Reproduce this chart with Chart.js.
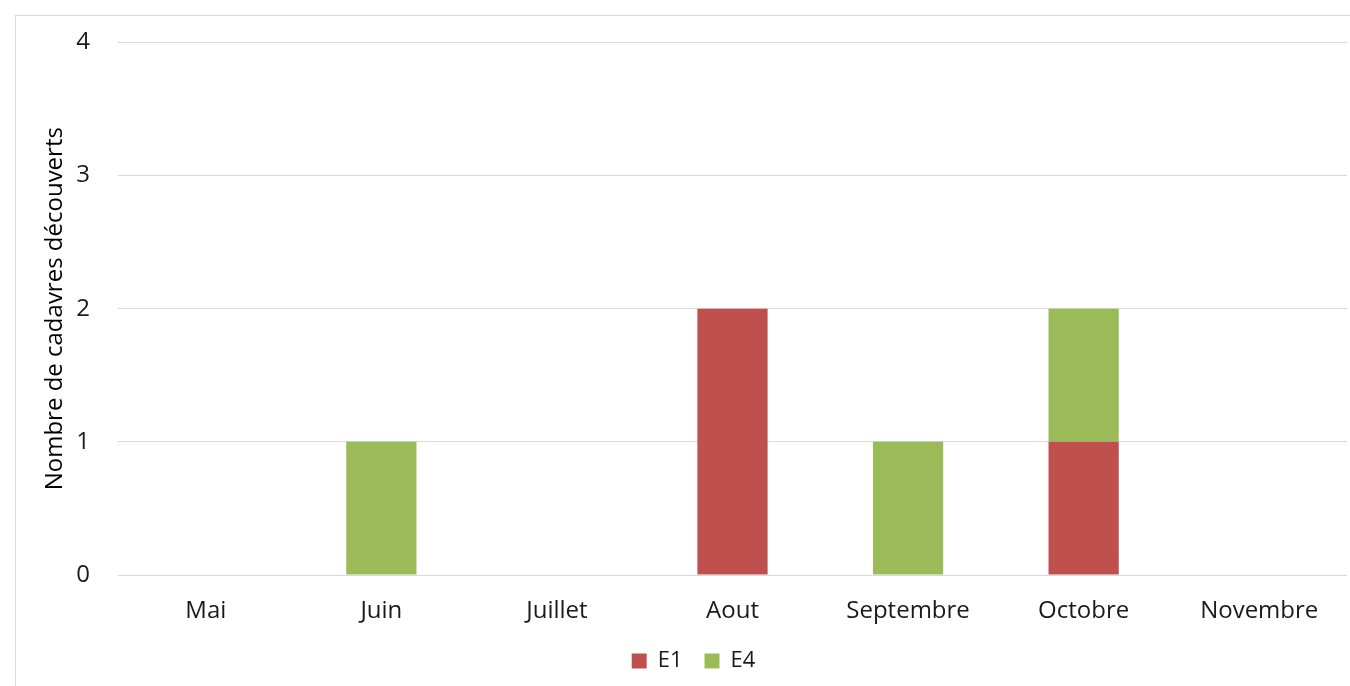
<!DOCTYPE html>
<html>
<head>
<meta charset="utf-8">
<script src="https://cdn.jsdelivr.net/npm/chart.js@4.4.0/dist/chart.umd.min.js"></script>
<style>
  html, body { margin: 0; padding: 0; background: #ffffff; overflow: hidden; }
  #wrap { position: relative; width: 1350px; height: 686px; }
  #frame { position: absolute; left: 15px; top: 15px; width: 1400px; height: 700px; border: 1px solid #d9d9d9; box-sizing: border-box; }
  canvas { position: absolute; left: 0; top: 0; }
</style>
</head>
<body>
<div id="wrap">
  <div id="frame"></div>
  <canvas id="c" width="1350" height="686"></canvas>
</div>
<script>
const categories = ["Mai", "Juin", "Juillet", "Aout", "Septembre", "Octobre", "Novembre"];
const seriesE1 = [0, 0, 0, 2, 0, 1, 0];
const seriesE4 = [0, 1, 0, 0, 1, 1, 0];
const yTicks = [0, 1, 2, 3, 4];
const yTitle = "Nombre de cadavres découverts";

const FONT = "'Open Sans', 'Liberation Sans', sans-serif";
const TXT = '#1a1a1a';

new Chart(document.getElementById('c'), {
  type: 'bar',
  data: {
    labels: categories,
    datasets: [
      { label: 'E1', data: seriesE1, backgroundColor: '#C0504D', borderWidth: 0 },
      { label: 'E4', data: seriesE4, backgroundColor: '#9BBB59', borderWidth: 0 }
    ]
  },
  options: {
    responsive: false,
    animation: false,
    devicePixelRatio: 1,
    layout: { padding: { left: 40, right: 3, top: 42, bottom: 4 } },
    datasets: { bar: { categoryPercentage: 1.0, barPercentage: 0.4 } },
    plugins: {
      tooltip: { enabled: false },
      legend: {
        position: 'bottom',
        labels: {
          boxWidth: 15, boxHeight: 15, padding: 22,
          color: TXT,
          font: { family: FONT, size: 22 }
        }
      }
    },
    scales: {
      x: {
        stacked: true,
        grid: { display: false, drawTicks: false },
        border: { display: false },
        ticks: { color: TXT, padding: 22, font: { family: FONT, size: 24 }, maxRotation: 0 },
        afterFit: (s) => { s.height = 53; }
      },
      y: {
        stacked: true,
        min: 0, max: 4,
        afterBuildTicks: (s) => { s.ticks = yTicks.map(v => ({ value: v })); },
        grid: { color: '#d9d9d9', lineWidth: 1, drawTicks: false },
        border: { display: false },
        ticks: { color: TXT, padding: 28, font: { family: FONT, size: 24 } },
        title: { display: true, text: yTitle, color: '#000000', font: { family: FONT, size: 24 }, padding: { top: 1, bottom: 0 } },
        afterFit: (s) => { s.width = 78; }
      }
    }
  }
});
</script>
</body>
</html>
